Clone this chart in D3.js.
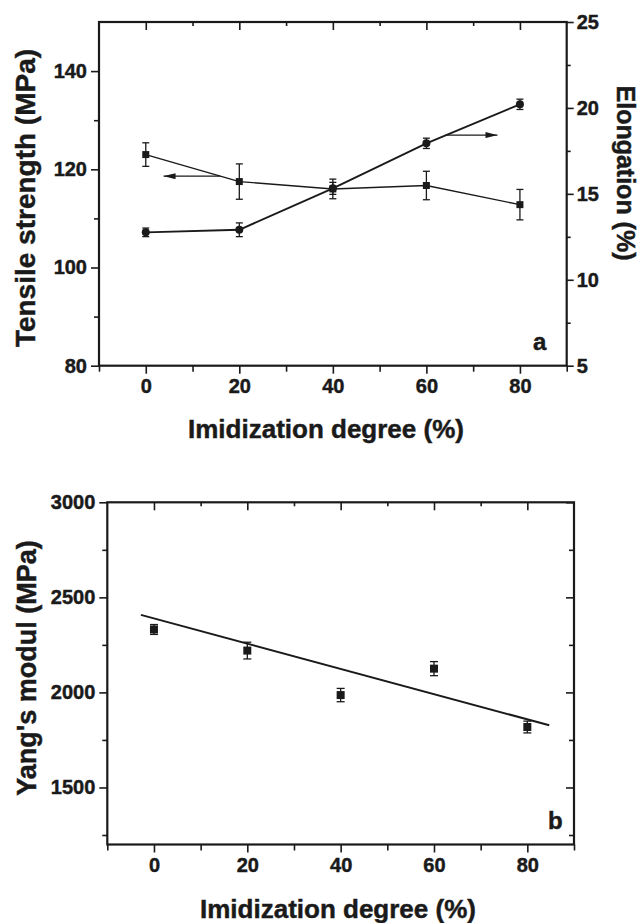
<!DOCTYPE html>
<html>
<head>
<meta charset="utf-8">
<script src="https://cdn.jsdelivr.net/npm/d3@7"></script>
<style>
body { margin: 0; background: #fff; }
svg text { font-family: "Liberation Sans", Arial, sans-serif; font-weight: bold; fill: #1a1a1a; stroke: #1a1a1a; stroke-width: 0.45px; }
</style>
</head>
<body>
<script>
var width = 640,
    height = 923;

// data
var degree = [0, 20, 40, 60, 80];
var tensile = [123.0, 117.5, 116.0, 116.7, 112.8];
var tensileErr = [2.4, 3.6, 2.0, 2.9, 3.1];
var elong = [12.76, 12.91, 15.32, 17.94, 20.21];
var elongErr = [0.25, 0.4, 0.35, 0.3, 0.3];
var modulus = [2331, 2220, 1986, 2125, 1818];
var modulusErr = [26, 44, 35, 37, 31];
var fitX = [-2.8, 84.7];
var fitY = [2408, 1827];

var xTicks = [0, 20, 40, 60, 80],
    xMinor = [-10, 10, 30, 50, 70, 90],
    xTop = [0, 10, 20, 30, 40, 50, 60, 70, 80];
var tsTicks = [80, 100, 120, 140],
    tsMinor = [90, 110, 130];
var elTicks = [5, 10, 15, 20, 25],
    elMinor = [7.5, 12.5, 17.5, 22.5];
var ymTicks = [1500, 2000, 2500, 3000],
    ymMinor = [1250, 1750, 2250, 2750];

// arrows pointing at the axis each series belongs to
var arrowLeft = { x: [15.9, 3.8], y: 118.6 };
var arrowRight = { x: [64.1, 75.2], y: 18.42 };

var ink = "#1a1a1a";
var fmt = d3.format("d");

var svg = d3.select("body").append("svg")
    .attr("width", width)
    .attr("height", height);

svg.append("defs").append("marker")
    .attr("id", "head")
    .attr("viewBox", "0 0 12 6")
    .attr("refX", 12)
    .attr("refY", 3)
    .attr("markerWidth", 12)
    .attr("markerHeight", 6)
    .attr("markerUnits", "userSpaceOnUse")
    .attr("orient", "auto")
    .append("path")
    .attr("d", "M0,0L12,3L0,6Z")
    .attr("fill", ink);

function drawAxis(pos, axis) {
    var g = svg.append("g")
        .attr("transform", pos)
        .attr("font-size", 20)
        .attr("font-family", "Liberation Sans, Arial, sans-serif")
        .call(axis);
    g.select(".domain").remove();
    g.selectAll("line").attr("stroke", ink).attr("stroke-width", 1.6);
    g.selectAll("text")
        .style("font-size", "20px")
        .attr("fill", ink);
    return g;
}

function frame(x, y) {
    svg.append("rect")
        .attr("x", x.range()[0])
        .attr("y", y.range()[1])
        .attr("width", x.range()[1] - x.range()[0])
        .attr("height", y.range()[0] - y.range()[1])
        .attr("fill", "none")
        .attr("stroke", ink)
        .attr("stroke-width", 2.2);
}

function errorBars(x, y, vals, errs, cap) {
    var g = svg.append("g").attr("stroke", ink).attr("stroke-width", 1.3);
    degree.forEach(function (d, i) {
        var px = x(d), lo = y(vals[i] - errs[i]), hi = y(vals[i] + errs[i]);
        g.append("line").attr("x1", px).attr("x2", px).attr("y1", lo).attr("y2", hi);
        g.append("line").attr("x1", px - cap).attr("x2", px + cap).attr("y1", lo).attr("y2", lo);
        g.append("line").attr("x1", px - cap).attr("x2", px + cap).attr("y1", hi).attr("y2", hi);
    });
}

function squares(x, y, vals, size) {
    svg.append("g").selectAll("rect")
        .data(vals)
        .enter().append("rect")
        .attr("x", function (d, i) { return x(degree[i]) - size / 2; })
        .attr("y", function (d) { return y(d) - size / 2; })
        .attr("width", size)
        .attr("height", size)
        .attr("fill", ink);
}

function axesFor(x, y, yTicks, yMinor, rightTicks, rightMinor, yRight, rightOut) {
    var x0 = x.range()[0], x1 = x.range()[1], y0 = y.range()[0], y1 = y.range()[1];
    drawAxis("translate(0," + y0 + ")", d3.axisBottom(x).tickValues(xTicks).tickSize(8).tickPadding(5).tickFormat(fmt));
    drawAxis("translate(0," + y0 + ")", d3.axisBottom(x).tickValues(xMinor).tickSize(6).tickFormat(""));
    drawAxis("translate(0," + y1 + ")", d3.axisBottom(x).tickValues(xTicks).tickSize(8).tickFormat(""));
    drawAxis("translate(0," + y1 + ")", d3.axisBottom(x).tickValues(xTop.filter(function (d) { return d % 20; })).tickSize(4).tickFormat(""));
    drawAxis("translate(" + x0 + ",0)", d3.axisLeft(y).tickValues(yTicks).tickSize(8).tickPadding(4).tickFormat(fmt));
    drawAxis("translate(" + x0 + ",0)", d3.axisLeft(y).tickValues(yMinor).tickSize(5).tickFormat(""));
    if (rightOut) {
        drawAxis("translate(" + x1 + ",0)", d3.axisRight(yRight).tickValues(rightTicks).tickSize(7).tickPadding(3).tickFormat(fmt));
        drawAxis("translate(" + x1 + ",0)", d3.axisRight(yRight).tickValues(rightMinor).tickSize(4).tickFormat(""));
    } else {
        drawAxis("translate(" + x1 + ",0)", d3.axisLeft(y).tickValues(rightTicks).tickSize(8).tickFormat(""));
        drawAxis("translate(" + x1 + ",0)", d3.axisLeft(y).tickValues(rightMinor).tickSize(5).tickFormat(""));
    }
}

var line = d3.line()
    .x(function (d) { return d[0]; })
    .y(function (d) { return d[1]; });

// ---- panel a ----
var xa = d3.scaleLinear().domain([-10, 90]).range([99, 566.7]);
var ya = d3.scaleLinear().domain([80, 150]).range([365.7, 22]);
var ya2 = d3.scaleLinear().domain([5, 25]).range([365.7, 22]);

svg.append("path")
    .attr("d", line(degree.map(function (d, i) { return [xa(d), ya(tensile[i])]; })))
    .attr("fill", "none").attr("stroke", ink).attr("stroke-width", 1.4);
svg.append("path")
    .attr("d", line(degree.map(function (d, i) { return [xa(d), ya2(elong[i])]; })))
    .attr("fill", "none").attr("stroke", ink).attr("stroke-width", 1.9);

errorBars(xa, ya, tensile, tensileErr, 3.5);
errorBars(xa, ya2, elong, elongErr, 3.5);
squares(xa, ya, tensile, 7);
svg.append("g").selectAll("circle")
    .data(elong)
    .enter().append("circle")
    .attr("cx", function (d, i) { return xa(degree[i]); })
    .attr("cy", function (d) { return ya2(d); })
    .attr("r", 4)
    .attr("fill", ink);

svg.append("line")
    .attr("x1", xa(arrowLeft.x[0])).attr("x2", xa(arrowLeft.x[1]))
    .attr("y1", ya(arrowLeft.y)).attr("y2", ya(arrowLeft.y))
    .attr("stroke", ink).attr("stroke-width", 1.3)
    .attr("marker-end", "url(#head)");
svg.append("line")
    .attr("x1", xa(arrowRight.x[0])).attr("x2", xa(arrowRight.x[1]))
    .attr("y1", ya2(arrowRight.y)).attr("y2", ya2(arrowRight.y))
    .attr("stroke", ink).attr("stroke-width", 1.3)
    .attr("marker-end", "url(#head)");

frame(xa, ya);
axesFor(xa, ya, tsTicks, tsMinor, elTicks, elMinor, ya2, true);

svg.append("text").text("a")
    .attr("x", 533).attr("y", 350)
    .style("font-size", "24px");
svg.append("text").text("Imidization degree (%)")
    .attr("x", 326).attr("y", 438)
    .attr("text-anchor", "middle")
    .style("font-size", "26px");
svg.append("text").text("Tensile strength (MPa)")
    .attr("transform", "translate(35,198) rotate(-90)")
    .attr("text-anchor", "middle")
    .style("font-size", "28px");
svg.append("text").text("Elongation (%)")
    .attr("transform", "translate(617,173) rotate(90)")
    .attr("text-anchor", "middle")
    .style("font-size", "25px");

// ---- panel b ----
var xb = d3.scaleLinear().domain([-10, 90]).range([107.3, 574]);
var yb = d3.scaleLinear().domain([1200, 3000]).range([844.5, 502.3]);

svg.append("path")
    .attr("d", line(fitX.map(function (d, i) { return [xb(d), yb(fitY[i])]; })))
    .attr("fill", "none").attr("stroke", ink).attr("stroke-width", 2);

errorBars(xb, yb, modulus, modulusErr, 4);
squares(xb, yb, modulus, 8);

frame(xb, yb);
axesFor(xb, yb, ymTicks, ymMinor, ymTicks, ymMinor, null, false);

svg.append("text").text("b")
    .attr("x", 548).attr("y", 829)
    .style("font-size", "24px");
svg.append("text").text("Imidization degree (%)")
    .attr("x", 338).attr("y", 918)
    .attr("text-anchor", "middle")
    .style("font-size", "26px");
svg.append("text").text("Yang's modul (MPa)")
    .attr("transform", "translate(36,668) rotate(-90)")
    .attr("text-anchor", "middle")
    .style("font-size", "27px");
</script>
</body>
</html>
